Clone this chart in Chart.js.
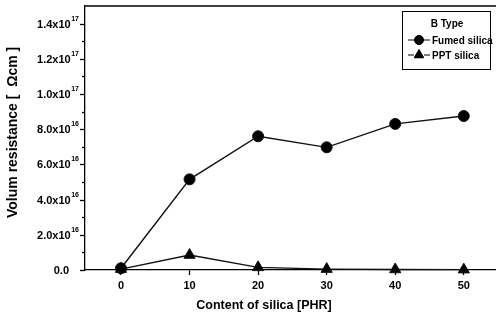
<!DOCTYPE html>
<html>
<head>
<meta charset="utf-8">
<script src="https://cdn.jsdelivr.net/npm/chart.js@4/dist/chart.umd.min.js"></script>
<style>
  html, body { margin: 0; padding: 0; background: #fff; }
  #wrap { width: 496px; height: 326px; }
</style>
</head>
<body>
<div id="wrap"><canvas id="grafico" width="496" height="326"></canvas></div>
<script>
// datos
const contenido = [0, 10, 20, 30, 40, 50];
const fumedSilica = [0.1e16, 5.15e16, 7.6e16, 6.97e16, 8.3e16, 8.75e16];
const pptSilica = [0.05e16, 0.85e16, 0.15e16, 0.05e16, 0.03e16, 0.02e16];
const xTicks = [0, 10, 20, 30, 40, 50];
const yTicks = [0, 2e16, 4e16, 6e16, 8e16, 1e17, 1.2e17, 1.4e17];
const yTickBase = ['0.0', '2.0x10', '4.0x10', '6.0x10', '8.0x10', '1.0x10', '1.2x10', '1.4x10'];
const yTickExp = ['', '16', '16', '16', '16', '17', '17', '17'];
const serieNombres = ['Fumed silica', 'PPT silica'];

const FONT = '"Liberation Sans", Arial, Helvetica, sans-serif';

// ejes, marcas y leyenda dibujados a mano
const extras = {
    id: 'extras',
    afterDraw(chart) {
        const ctx = chart.ctx;
        const x = chart.scales.x, y = chart.scales.y;
        const a = chart.chartArea;
        ctx.save();
        ctx.strokeStyle = '#000';
        ctx.fillStyle = '#000';
        ctx.lineWidth = 1.3;
        // marco superior
        ctx.beginPath();
        ctx.moveTo(a.left, a.top);
        ctx.lineTo(a.right, a.top);
        ctx.stroke();
        // marcas del eje y (mayores y menores)
        for (let v = 0; v <= 1.4e17 + 1; v += 1e16) {
            const py = Math.round(y.getPixelForValue(v)) + 0.5;
            const major = Math.round(v / 1e16) % 2 === 0;
            ctx.beginPath();
            ctx.moveTo(a.left - (major ? 5 : 3), py);
            ctx.lineTo(a.left, py);
            ctx.stroke();
        }
        // etiquetas del eje y con exponente
        ctx.textBaseline = 'middle';
        yTicks.forEach((v, i) => {
            const py = y.getPixelForValue(v);
            let right = 79;
            ctx.textAlign = 'right';
            if (yTickExp[i]) {
                ctx.font = 'bold 7px ' + FONT;
                ctx.fillText(yTickExp[i], right, py - 5);
                right -= ctx.measureText(yTickExp[i]).width + 0.5;
            } else {
                right = 69;
            }
            ctx.font = 'bold 11px ' + FONT;
            ctx.fillText(yTickBase[i], right, py + 1);
        });
        // titulos de los ejes
        ctx.font = 'bold 12.5px ' + FONT;
        ctx.textAlign = 'center';
        ctx.fillText('Content of silica [PHR]', 264, 306);
        ctx.save();
        ctx.translate(13, 218);
        ctx.rotate(-Math.PI / 2);
        ctx.textAlign = 'left';
        ctx.font = 'bold 14px ' + FONT;
        ctx.fillText('Volum resistance [  \u03A9cm ]', 0, 0);
        ctx.restore();
        // leyenda
        const lx = 402, ly = 11, lw = 88, lh = 58;
        ctx.lineWidth = 1;
        ctx.fillStyle = '#fff';
        ctx.fillRect(lx, ly, lw, lh);
        ctx.strokeRect(lx + 0.5, ly + 0.5, lw, lh);
        ctx.fillStyle = '#000';
        ctx.font = 'bold 10px ' + FONT;
        ctx.fillText('B Type', 447, 24);
        const estilos = ['circle', 'triangle'];
        [40, 55].forEach((py, i) => {
            ctx.lineWidth = 1;
            ctx.beginPath();
            ctx.moveTo(408, py); ctx.lineTo(414, py);
            ctx.moveTo(424, py); ctx.lineTo(430, py);
            ctx.stroke();
            Chart.helpers.drawPoint(ctx, { pointStyle: estilos[i], radius: i === 0 ? 4.5 : 5.5, borderWidth: 1 }, 419, py);
            ctx.fill();
            ctx.textAlign = 'left';
            ctx.font = 'bold 10px ' + FONT;
            ctx.fillText(serieNombres[i], 432, py + 1);
        });
        ctx.restore();
    }
};

new Chart(document.getElementById('grafico'), {
    type: 'line',
    data: {
        datasets: [
            {
                label: serieNombres[0],
                data: contenido.map((c, i) => ({ x: c, y: fumedSilica[i] })),
                borderColor: '#111',
                backgroundColor: '#000',
                borderWidth: 1.4,
                pointStyle: 'circle',
                pointRadius: 5.5,
                pointBorderWidth: 1,
                clip: false
            },
            {
                label: serieNombres[1],
                data: contenido.map((c, i) => ({ x: c, y: pptSilica[i] })),
                borderColor: '#111',
                backgroundColor: '#000',
                borderWidth: 1.4,
                pointStyle: 'triangle',
                pointRadius: 6.5,
                pointBorderWidth: 1,
                clip: false
            }
        ]
    },
    options: {
        responsive: false,
        animation: false,
        layout: { autoPadding: false, padding: { top: 6, right: 0, left: 0, bottom: 0 } },
        plugins: {
            legend: { display: false },
            title: { display: false },
            tooltip: { enabled: false }
        },
        scales: {
            x: {
                type: 'linear',
                min: -5.25,
                max: 54.7,
                afterBuildTicks: (s) => { s.ticks = xTicks.map(v => ({ value: v })); },
                afterFit: (s) => { s.height = 56; s.paddingLeft = 0; s.paddingRight = 0; },
                border: { display: true, color: '#000', width: 1.3 },
                grid: { drawOnChartArea: false, drawTicks: true, tickLength: 5, color: '#000', tickWidth: 1.3 },
                ticks: { color: '#000', font: { family: FONT, size: 11, weight: 'bold' }, padding: 4, maxRotation: 0 }
            },
            y: {
                min: 0,
                max: 1.5e17,
                afterBuildTicks: (s) => { s.ticks = yTicks.map(v => ({ value: v })); },
                afterFit: (s) => { s.width = 85; s.paddingTop = 0; s.paddingBottom = 0; },
                border: { display: true, color: '#000', width: 1.3 },
                grid: { display: false },
                ticks: { callback: () => '' }
            }
        }
    },
    plugins: [extras]
});
</script>
</body>
</html>
